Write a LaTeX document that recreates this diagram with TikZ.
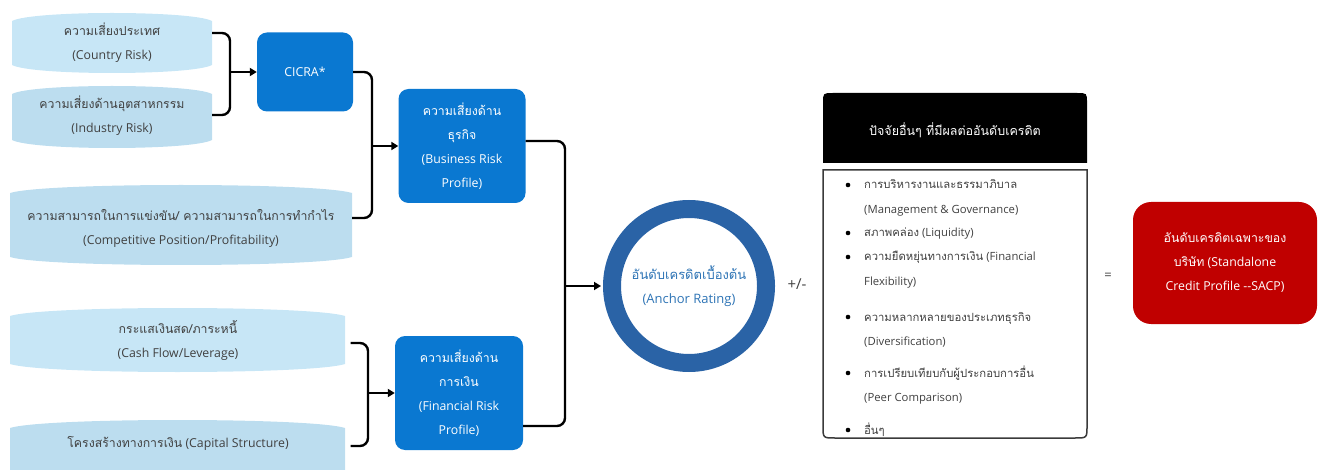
\documentclass[tikz,border=0pt]{standalone}
\usepackage{fontspec}
\setmainfont{Open Sans}
\newfontfamily\thaif[Script=Thai]{Loma}
\newcommand\T[1]{{\thaif #1}}
\usetikzlibrary{arrows.meta}
\definecolor{pillA}{HTML}{C7E6F6}
\definecolor{pillB}{HTML}{BCDDEF}
\definecolor{boxblue}{HTML}{0A78D1}
\definecolor{ringblue}{HTML}{2A63A6}
\definecolor{ringtext}{HTML}{2E74B5}
\definecolor{txtgray}{HTML}{404040}
\definecolor{sacpred}{HTML}{C00000}
\definecolor{framegray}{HTML}{3A3A3A}
% pill: x1,y1,x2,y2,colour (bulge 8)
\newcommand\pillpath[5]{%
  \fill[#5] (#1,{#2+8}) -- (#1,{#4-8})
    .. controls ({#1+0.1*(#3-#1)},{#4+8/3}) and ({#3-0.1*(#3-#1)},{#4+8/3}) .. (#3,{#4-8})
    -- (#3,{#2+8})
    .. controls ({#3-0.1*(#3-#1)},{#2-8/3}) and ({#1+0.1*(#3-#1)},{#2-8/3}) .. cycle;}
\begin{document}
\begin{tikzpicture}[x=1pt,y=-1pt,
  font=\fontsize{12.3}{24}\selectfont,
  pilltext/.style={align=center,text=txtgray,inner sep=0pt},
  bluebox/.style={fill=boxblue,rounded corners=10pt,text=white,align=center,inner sep=0pt},
  conn/.style={line width=2.4pt,rounded corners=8pt},
  arr/.style={line width=2.4pt,-{Triangle[length=7pt,width=8pt]}},
  item/.style={anchor=base west,text=txtgray,inner sep=0pt,font=\fontsize{11.3}{24}\selectfont},
  bul/.style={fill=black,circle,inner sep=0pt,minimum size=4.6pt}]
\useasboundingbox (0,0) rectangle (1319,470);
% pills
\pillpath{12}{13}{212}{73}{pillA}
\pillpath{12}{86}{212}{148}{pillB}
\pillpath{10}{185}{352}{265}{pillB}
\pillpath{10}{308}{345}{372}{pillA}
\pillpath{10}{420}{345}{478}{pillB}
\node[pilltext,minimum width=200pt,minimum height=60pt] (cr) at (112,43) {\T{ความเสี่ยงประเทศ}\\(Country Risk)};
\node[pilltext,minimum width=200pt,minimum height=60pt] (ir) at (112,116) {\T{ความเสี่ยงด้านอุตสาหกรรม}\\(Industry Risk)};
\node[pilltext,minimum width=342pt,minimum height=70pt] (cp) at (181,228) {\T{ความสามารถในการแข่งขัน/ ความสามารถในการทำกำไร}\\(Competitive Position/Profitability)};
\node[pilltext,minimum width=335pt,minimum height=60pt] (cf) at (178,340) {\T{กระแสเงินสด/ภาระหนี้}\\(Cash Flow/Leverage)};
\node[pilltext,minimum width=335pt,minimum height=40pt] (cs) at (178,443) {\T{โครงสร้างทางการเงิน} (Capital Structure)};
% blue boxes
\node[bluebox,minimum width=96pt,minimum height=79pt] (cicra) at (305,72) {CICRA*};
\node[bluebox,minimum width=127pt,minimum height=114pt] (bus) at (462,146) {\T{ความเสี่ยงด้าน}\\\T{ธุรกิจ}\\(Business Risk\\Profile)};
\node[bluebox,minimum width=128pt,minimum height=114pt] (fin) at (459,393) {\T{ความเสี่ยงด้าน}\\\T{การเงิน}\\(Financial Risk\\Profile)};
% anchor ring
\node[circle,draw=ringblue,line width=18pt,minimum size=154pt,text=ringtext,align=center,inner sep=0pt,font=\fontsize{13}{24}\selectfont] (anc) at (689,286) {\T{อันดับเครดิตเบื้องต้น}\\(Anchor Rating)};
\node[font=\fontsize{15}{16}\selectfont,text=txtgray] (pm) at (797,284) {+/-};
% junction coordinates
\coordinate (j1) at (230,72);
\coordinate (j2) at (372,146);
\coordinate (j3) at (368,393);
\coordinate (j4) at (565,286);
% connectors
\draw[conn] ([yshift=10pt]cr.east) -| (j1) |- ([yshift=1pt]ir.east);
\draw[arr] (j1) -- (cicra.west);
\draw[conn] (cicra.east) -| (j2) |- ([yshift=10pt]cp.east);
\draw[arr] (j2) -- (bus.west);
\draw[conn] ([xshift=5pt,yshift=-3pt]cf.east) -| (j3) |- ([xshift=5pt,yshift=-3pt]cs.east);
\draw[arr] (j3) -- (fin.west);
\draw[conn] ([yshift=5pt]bus.east) -| (j4) |- ([yshift=-33pt]fin.east);
\draw[arr] (j4) -- ([xshift=-2pt]anc.west);
% other factors box
\fill[black] (823,163) -- (823,103) .. controls (823,93) .. (833,93) -- (1077,93) .. controls (1087,93) .. (1087,103) -- (1087,163) -- cycle;
\node[text=white,inner sep=0pt,font=\fontsize{12.5}{24}\selectfont] (hdr) at (955,130) {\T{ปัจจัยอื่นๆ ที่มีผลต่ออันดับเครดิต}};
\draw[framegray,line width=1.5pt] (823,170) -- (1087,170) -- (1087,426) .. controls (1087,438) .. (1075,438) -- (835,438) .. controls (823,438) .. (823,426) -- cycle;
\node[item] (l1) at (864,189) {\T{การบริหารงานและธรรมาภิบาล}};
\node[item] (l2) at (864,214) {(Management \& Governance)};
\node[item] (l3) at (864,237) {\T{สภาพคล่อง} (Liquidity)};
\node[item] (l4) at (864,261) {\T{ความยืดหยุ่นทางการเงิน} (Financial};
\node[item] (l5) at (864,285) {Flexibility)};
\node[item] (l6) at (864,321) {\T{ความหลากหลายของประเภทธุรกิจ}};
\node[item] (l7) at (864,345) {(Diversification)};
\node[item] (l8) at (864,377) {\T{การเปรียบเทียบกับผู้ประกอบการอื่น}};
\node[item] (l9) at (864,401) {(Peer Comparison)};
\node[item] (l10) at (864,434) {\T{อื่นๆ}};
\node[bul] (b1) at (848,185) {};
\node[bul] (b2) at (848,233) {};
\node[bul] (b3) at (848,257) {};
\node[bul] (b4) at (848,317) {};
\node[bul] (b5) at (848,373) {};
\node[bul] (b6) at (848,430) {};
% result
\node[font=\fontsize{13}{16}\selectfont,text=txtgray] (eq) at (1108,276) {=};
\node[fill=sacpred,rounded corners=18pt,minimum width=184pt,minimum height=122pt,text=white,align=center,inner sep=0pt,font=\fontsize{12.3}{24}\selectfont] (sacp) at (1225,263) {\T{อันดับเครดิตเฉพาะของ}\\\T{บริษัท} (Standalone\\Credit Profile -{}-SACP)};
\end{tikzpicture}
\end{document}
